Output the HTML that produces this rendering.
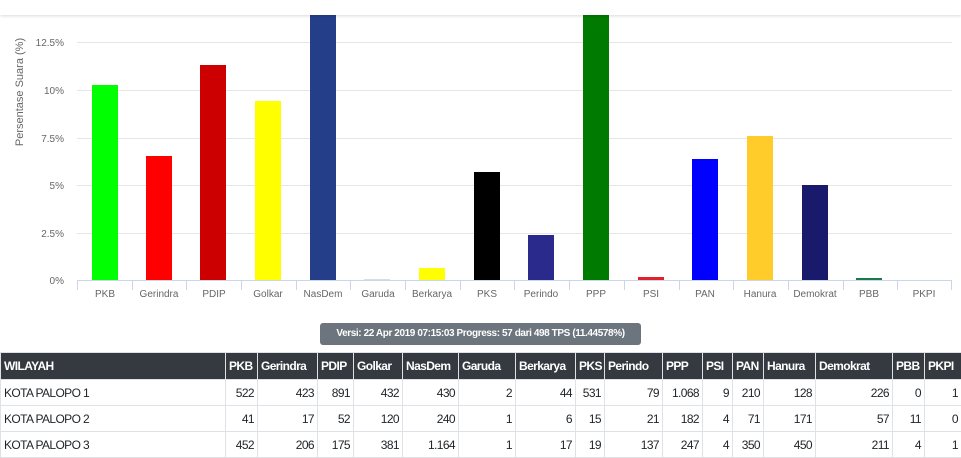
<!DOCTYPE html>
<html><head><style>
body{margin:0;width:961px;height:458px;background:#fff;overflow:hidden;font-family:"Liberation Sans",sans-serif;position:relative}
.top{position:absolute;left:0;top:0;width:961px;height:15px;background:#fff;box-shadow:0 1px 3px rgba(0,0,0,.15);z-index:2}
.badge{position:absolute;left:320px;top:323px;width:321px;height:22px;background:#6c757d;border-radius:3px;color:#fff;font-size:10px;font-weight:bold;line-height:22px;text-align:center;letter-spacing:-0.4px}
table{position:absolute;left:0;top:352px;width:961px;border-collapse:collapse;table-layout:fixed;font-size:12px;letter-spacing:-0.6px}
th{background:#343a40;color:#fff;font-weight:bold;height:26px;padding:0 3px;text-align:left;border:1px solid #dee2e6;white-space:nowrap;overflow:hidden}
td{height:25px;padding:0 3px;text-align:right;border:1px solid #dee2e6;color:#212529;white-space:nowrap}
td:first-child{text-align:left}
</style></head><body>
<div class="top"></div>
<svg width="961" height="320" style="position:absolute;left:0;top:0" font-family="Liberation Sans, sans-serif">
<g stroke="#e6e6e6" stroke-width="1">
<line x1="77" x2="952" y1="42.5" y2="42.5"/><line x1="77" x2="952" y1="90.5" y2="90.5"/><line x1="77" x2="952" y1="138.5" y2="138.5"/><line x1="77" x2="952" y1="185.5" y2="185.5"/><line x1="77" x2="952" y1="233.5" y2="233.5"/>
</g>
<line x1="77" x2="952" y1="280.5" y2="280.5" stroke="#ccd6eb"/>
<g stroke="#ccd6eb">
<line x1="77.5" x2="77.5" y1="280" y2="290"/><line x1="132.5" x2="132.5" y1="280" y2="290"/><line x1="186.5" x2="186.5" y1="280" y2="290"/><line x1="241.5" x2="241.5" y1="280" y2="290"/><line x1="296.5" x2="296.5" y1="280" y2="290"/><line x1="350.5" x2="350.5" y1="280" y2="290"/><line x1="405.5" x2="405.5" y1="280" y2="290"/><line x1="460.5" x2="460.5" y1="280" y2="290"/><line x1="514.5" x2="514.5" y1="280" y2="290"/><line x1="569.5" x2="569.5" y1="280" y2="290"/><line x1="624.5" x2="624.5" y1="280" y2="290"/><line x1="679.5" x2="679.5" y1="280" y2="290"/><line x1="733.5" x2="733.5" y1="280" y2="290"/><line x1="788.5" x2="788.5" y1="280" y2="290"/><line x1="843.5" x2="843.5" y1="280" y2="290"/><line x1="897.5" x2="897.5" y1="280" y2="290"/><line x1="951.5" x2="951.5" y1="280" y2="290"/>
</g>
<g font-size="10" fill="#666" text-anchor="end">
<text x="64" y="46">12.5%</text><text x="64" y="94">10%</text><text x="64" y="142">7.5%</text><text x="64" y="189">5%</text><text x="64" y="237">2.5%</text><text x="64" y="284">0%</text>
</g>
<text transform="translate(23,92) rotate(-90)" text-anchor="middle" font-size="11" fill="#666">Persentase Suara (%)</text>
<rect x="92" y="85" width="26" height="195" fill="#00ff00"/>
<rect x="146" y="156" width="26" height="124" fill="#ff0000"/>
<rect x="200" y="65" width="26" height="215" fill="#cc0000"/>
<rect x="255" y="101" width="26" height="179" fill="#ffff00"/>
<rect x="310" y="15" width="26" height="265" fill="#253e8a"/>
<rect x="364" y="279" width="26" height="1" fill="#ddd"/>
<rect x="419" y="268" width="26" height="12" fill="#ffff00"/>
<rect x="474" y="172" width="26" height="108" fill="#000"/>
<rect x="528" y="235" width="26" height="45" fill="#2a2a8c"/>
<rect x="583" y="15" width="26" height="265" fill="#007a00"/>
<rect x="638" y="277" width="26" height="3" fill="#e0202a"/>
<rect x="692" y="159" width="26" height="121" fill="#0000ff"/>
<rect x="747" y="136" width="26" height="144" fill="#ffcc29"/>
<rect x="802" y="185" width="26" height="95" fill="#1a1a6c"/>
<rect x="856" y="278" width="26" height="2" fill="#1a7a4c"/>
<g font-size="10" fill="#666" text-anchor="middle">
<text x="105" y="297">PKB</text><text x="159" y="297">Gerindra</text><text x="214" y="297">PDIP</text><text x="268" y="297">Golkar</text><text x="323" y="297">NasDem</text><text x="378" y="297">Garuda</text><text x="432" y="297">Berkarya</text><text x="487" y="297">PKS</text><text x="541" y="297">Perindo</text><text x="596" y="297">PPP</text><text x="651" y="297">PSI</text><text x="705" y="297">PAN</text><text x="760" y="297">Hanura</text><text x="815" y="297">Demokrat</text><text x="869" y="297">PBB</text><text x="924" y="297">PKPI</text>
</g>
</svg>
<div class="badge">Versi: 22 Apr 2019 07:15:03 Progress: 57 dari 498 TPS (11.44578%)</div>
<table>
<colgroup><col style="width:225px"><col style="width:32px"><col style="width:60px"><col style="width:36px"><col style="width:49px"><col style="width:56px"><col style="width:57px"><col style="width:60px"><col style="width:29px"><col style="width:58px"><col style="width:40px"><col style="width:30px"><col style="width:31px"><col style="width:52px"><col style="width:77px"><col style="width:32px"><col style="width:37px"></colgroup>
<tr><th>WILAYAH</th><th>PKB</th><th>Gerindra</th><th>PDIP</th><th>Golkar</th><th>NasDem</th><th>Garuda</th><th>Berkarya</th><th>PKS</th><th>Perindo</th><th>PPP</th><th>PSI</th><th>PAN</th><th>Hanura</th><th>Demokrat</th><th>PBB</th><th>PKPI</th></tr>
<tr><td>KOTA PALOPO 1</td><td>522</td><td>423</td><td>891</td><td>432</td><td>430</td><td>2</td><td>44</td><td>531</td><td>79</td><td>1.068</td><td>9</td><td>210</td><td>128</td><td>226</td><td>0</td><td>1</td></tr>
<tr><td>KOTA PALOPO 2</td><td>41</td><td>17</td><td>52</td><td>120</td><td>240</td><td>1</td><td>6</td><td>15</td><td>21</td><td>182</td><td>4</td><td>71</td><td>171</td><td>57</td><td>11</td><td>0</td></tr>
<tr><td>KOTA PALOPO 3</td><td>452</td><td>206</td><td>175</td><td>381</td><td>1.164</td><td>1</td><td>17</td><td>19</td><td>137</td><td>247</td><td>4</td><td>350</td><td>450</td><td>211</td><td>4</td><td>1</td></tr>
</table>
</body></html>
